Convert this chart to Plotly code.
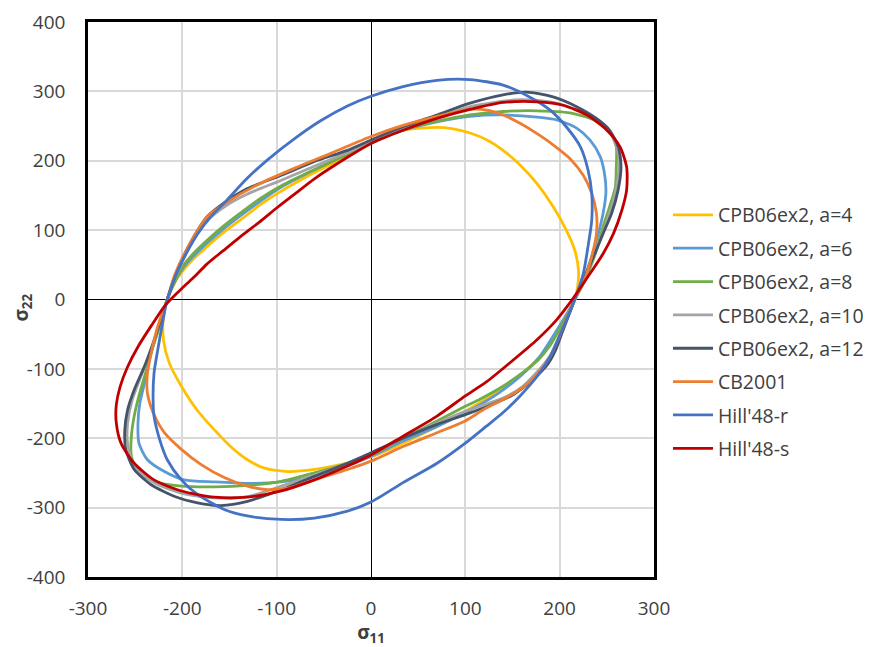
import plotly.graph_objects as go

# Yield loci in the sigma11 - sigma22 plane (MPa), traced point by point around each closed curve
a4_x = [0, 34, 70, 87, 105, 123, 140, 158, 176, 193, 207, 216, 220, 219, 216,
        210, 199, 183, 165, 140, 115, 100, 70, 34, 0,
        -25, -60, -88, -113, -131, -148, -166, -184, -201, -214, -220, -220, -216,
        -208, -199, -187, -174, -157, -139, -118, -99, -60, -25, 0]
a4_y = [228, 244, 248, 246, 240, 230, 215, 194, 167, 134, 100, 71, 42, 18, 0,
        -19, -45, -77, -101, -127, -149, -161, -183, -207, -227,
        -236, -245, -248, -243, -231, -213, -188, -160, -125, -91, -58, -24, 0,
        25, 42, 60, 76, 96, 114, 136, 153, 183, 207, 228]

a6_x = [0, 34, 70, 105, 140, 176, 197, 218, 232, 243, 248, 249, 246, 241, 234, 225, 216,
        207, 193, 179, 158, 133, 100, 70, 34, 0,
        -25, -60, -95, -131, -166, -198, -219, -237, -246, -247, -245, -240, -235, -228, -221, -216,
        -208, -199, -187, -174, -157, -139, -118, -95, -60, -25, 0]
a6_y = [227, 244, 256, 264, 266, 263, 259, 247, 230, 206, 177, 153, 124, 95, 62, 28, 0,
        -22, -53, -82, -111, -137, -163, -183, -204, -226,
        -240, -255, -263, -265, -263, -260, -248, -231, -207, -178, -149, -120, -87, -53, -22, 0,
        26, 46, 64, 81, 101, 120, 141, 162, 187, 210, 227]

a8_x = [0, 34, 70, 105, 140, 176, 211, 236, 253, 260, 260, 259, 253, 246, 239, 230, 223, 216,
        208, 199, 190, 178, 165, 140, 115, 100, 70, 34, 0,
        -25, -60, -95, -131, -166, -201, -230, -247, -254, -254, -251, -246, -239, -232, -223, -216,
        -208, -199, -187, -174, -157, -139, -118, -95, -60, -25, 0]
a8_y = [225, 244, 257, 266, 271, 272, 269, 259, 242, 220, 191, 162, 134, 105, 71, 38, 17, 0,
        -22, -45, -66, -86, -101, -125, -144, -154, -175, -200, -224,
        -236, -250, -262, -268, -270, -269, -262, -248, -226, -197, -168, -139, -106, -72, -34, 0,
        25, 49, 68, 85, 105, 124, 145, 164, 187, 209, 225]

a10_x = [0, 34, 70, 105, 158, 193, 229, 253, 262, 262, 257, 248, 237, 225, 216,
         209, 201, 193, 184, 161, 140, 100, 70, 34, 0,
         -25, -60, -95, -131, -166, -201, -230, -251, -258, -258, -253, -244, -233, -223, -216,
         -209, -200, -188, -174, -155, -131, -95, -60, -25, 0]
a10_y = [227, 247, 262, 278, 288, 284, 266, 242, 211, 177, 143, 105, 66, 28, 0,
         -24, -50, -74, -92, -125, -142, -161, -178, -200, -222,
         -236, -253, -269, -284, -286, -279, -264, -240, -207, -178, -144, -111, -72, -30, 0,
         27, 55, 86, 113, 134, 152, 172, 192, 212, 227]

a12_x = [0, 34, 70, 105, 140, 165, 193, 218, 239, 253, 262, 265, 262, 255, 246, 236, 225, 216,
         209, 202, 195, 188, 172, 151, 129, 100, 70, 34, 0,
         -25, -60, -95, -131, -159, -184, -208, -233, -251, -260, -261, -258, -251, -240, -231, -223, -216,
         -209, -200, -188, -174, -155, -131, -95, -60, -25, 0]
a12_y = [230, 249, 266, 283, 295, 299, 292, 278, 261, 244, 220, 191, 158, 124, 95, 62, 28, 0,
         -25, -50, -75, -92, -115, -137, -151, -166, -180, -200, -221,
         -236, -255, -274, -291, -297, -293, -284, -267, -245, -216, -188, -159, -130, -96, -63, -30, 0,
         28, 58, 90, 119, 140, 160, 179, 199, 215, 230]

cb_x = [0, 34, 70, 105, 123, 140, 158, 176, 193, 211, 225, 234, 239, 239, 234, 226, 216,
        209, 200, 190, 176, 158, 140, 119, 100, 70, 34, 0,
        -25, -60, -88, -110, -131, -155, -180, -201, -219, -231, -237, -237, -233, -228, -222, -216,
        -209, -200, -188, -174, -153, -118, -78, -42, 0]
cb_y = [235, 251, 264, 274, 273, 266, 254, 239, 223, 203, 179, 153, 124, 95, 62, 28, 0,
        -22, -52, -82, -108, -130, -144, -159, -175, -192, -212, -233,
        -245, -260, -272, -274, -269, -257, -238, -216, -192, -163, -135, -106, -77, -48, -22, 0,
        32, 60, 90, 119, 140, 167, 191, 211, 235]

hr_x = [0, 34, 70, 105, 140, 168, 190, 207, 222, 230, 234, 234, 230, 225, 216,
        207, 198, 190, 176, 158, 140, 122, 100, 70, 34, 0,
        -25, -60, -95, -131, -155, -184, -201, -216, -224, -230, -231, -230, -226, -221, -216,
        -207, -196, -184, -170, -155, -131, -110, -81, -53, -25, 0]
hr_y = [293, 307, 316, 317, 309, 292, 273, 249, 220, 187, 153, 114, 76, 37, 0,
        -30, -58, -82, -111, -139, -163, -183, -207, -236, -264, -292,
        -305, -315, -317, -312, -303, -281, -260, -231, -202, -168, -144, -106, -72, -34, 0,
        35, 66, 94, 119, 140, 175, 201, 232, 258, 279, 293]

hs_x = [0, 34, 70, 105, 140, 176, 204, 229, 250, 264, 271, 271, 266, 257, 246, 232, 218,
        208, 197, 176, 151, 123, 100, 70, 34, 0,
        -25, -60, -95, -131, -166, -201, -230, -251, -265, -270, -270, -266, -258, -247, -233, -218,
        -199, -187, -174, -157, -139, -118, -99, -80, -60, -25, 0]
hs_y = [225, 244, 261, 274, 284, 285, 280, 266, 244, 220, 191, 158, 129, 95, 66, 37, 9,
        -10, -29, -58, -87, -118, -139, -168, -197, -224,
        -240, -260, -276, -285, -285, -276, -260, -236, -207, -178, -152, -126, -97, -68, -38, -8,
        18, 33, 51, 70, 90, 112, 133, 153, 174, 205, 225]

series_names = ["CPB06ex2, a=4", "CPB06ex2, a=6", "CPB06ex2, a=8", "CPB06ex2, a=10",
                "CPB06ex2, a=12", "CB2001", "Hill'48-r", "Hill'48-s"]
series_x = [a4_x, a6_x, a8_x, a10_x, a12_x, cb_x, hr_x, hs_x]
series_y = [a4_y, a6_y, a8_y, a10_y, a12_y, cb_y, hr_y, hs_y]
series_colors = ["#FFC000", "#5B9BD5", "#70AD47", "#A5A5A5",
                 "#44546A", "#ED7D31", "#4472C4", "#C00000"]

x_ticks = [-300, -200, -100, 0, 100, 200, 300]
y_ticks = [-400, -300, -200, -100, 0, 100, 200, 300, 400]
x_tick_text = ["-300", "-200", "-100", "0", "100", "200", "300"]
y_tick_text = ["-400", "-300", "-200", "-100", "0", "100", "200", "300", "400"]

FONT = "Open Sans"
TEXT = "#404040"

fig = go.Figure()
for name, xs, ys, col in zip(series_names, series_x, series_y, series_colors):
    fig.add_trace(go.Scatter(
        x=xs, y=ys, name=name, mode="lines",
        line=dict(color=col, width=2.8, shape="spline", smoothing=0.7),
        legendgroup=name,
    ))

# cross tick marks on the axes through the origin
shapes = []
for v in x_ticks:
    if v in (0, x_ticks[0], x_ticks[-1]):
        continue
    shapes.append(dict(type="line", xref="x", yref="y", ysizemode="pixel", yanchor=0,
                       x0=v, x1=v, y0=-7, y1=7, line=dict(color="black", width=1.3), layer="below"))
for v in y_ticks:
    if v in (0, y_ticks[0], y_ticks[-1]):
        continue
    shapes.append(dict(type="line", xref="x", yref="y", xsizemode="pixel", xanchor=0,
                       y0=v, y1=v, x0=-7, x1=7, line=dict(color="black", width=1.3), layer="below"))

# vertical axis title
annotations = [
    dict(text="<b>σ<sub>22</sub></b>", xref="paper", yref="paper", x=-0.117, y=0.485,
         xanchor="center", yanchor="middle", showarrow=False, textangle=-90,
         font=dict(family=FONT, size=19, color=TEXT)),
]

fig.update_layout(
    width=874, height=647,
    margin=dict(l=88, r=220, t=22, b=70, autoexpand=False),
    paper_bgcolor="white", plot_bgcolor="white",
    font=dict(family=FONT, size=19, color=TEXT),
    shapes=shapes,
    annotations=annotations,
    showlegend=True,
    legend=dict(x=1.0247, xanchor="left", y=0.442, yanchor="middle",
                font=dict(family=FONT, size=19.5, color=TEXT),
                tracegroupgap=5, itemwidth=40, bgcolor="rgba(0,0,0,0)"),
    xaxis=dict(range=[-300, 300], tickvals=x_ticks, ticktext=x_tick_text,
               showgrid=True, gridcolor="#D9D9D9", gridwidth=2,
               zeroline=True, zerolinecolor="black", zerolinewidth=1.3,
               showline=True, mirror=True, linecolor="black", linewidth=2.5,
               ticks="", ticklabelstandoff=12, automargin=True,
               title=dict(text="<b>σ<sub>11</sub></b>", standoff=10,
                          font=dict(family=FONT, size=19, color=TEXT))),
    yaxis=dict(range=[-400, 400], tickvals=y_ticks, ticktext=y_tick_text,
               showgrid=True, gridcolor="#D9D9D9", gridwidth=2,
               zeroline=True, zerolinecolor="black", zerolinewidth=1.3,
               showline=True, mirror=True, linecolor="black", linewidth=2.5,
               ticks="", ticklabelstandoff=16, automargin=False),
)

fig.write_html("out.html")
